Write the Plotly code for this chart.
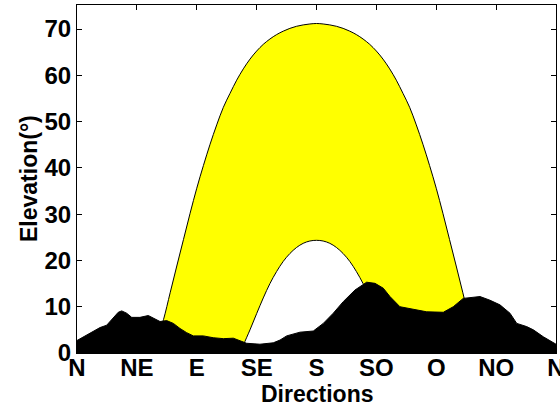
import plotly.graph_objects as go

# Direction tick labels (azimuth in degrees from North)
dir_vals = [0, 45, 90, 135, 180, 225, 270, 315, 360]
dir_text = ["N", "NE", "E", "SE", "S", "SO", "O", "NO", "N"]
elev_ticks = [0, 10, 20, 30, 40, 50, 60, 70]

# Summer solstice sun path (azimuth, elevation)
summer_az = [57.5, 60, 65, 70, 75, 80, 85, 90, 95, 100, 105, 110, 115, 120, 125, 130,
             135, 140, 145, 150, 155, 160, 165, 170, 175, 180,
             185, 190, 195, 200, 205, 210, 215, 220, 225, 230, 235, 240,
             245, 250, 255, 260, 265, 270, 275, 280, 285, 290, 295, 300, 302.5]
summer_el = [0.0, 2.6, 7.2, 13.0, 18.8, 24.5, 30.2, 35.6, 40.5, 45.1, 49.3, 53.1,
             56.1, 58.95, 61.4, 63.5, 65.25, 66.7, 67.85, 68.8, 69.55, 70.15, 70.6,
             70.9, 71.1, 71.2,
             71.1, 70.9, 70.6, 70.15, 69.55, 68.8, 67.85, 66.7, 65.25, 63.5, 61.4,
             58.95, 56.1, 53.1, 49.3, 45.1, 40.5, 35.6, 30.2, 24.5, 18.8, 13.0, 7.2,
             2.6, 0.0]

# Winter solstice sun path (azimuth, elevation)
winter_az = [122.5, 125, 130, 135, 140, 145, 150, 155, 160, 165, 170, 175, 180,
             185, 190, 195, 200, 205, 210, 215, 220, 225, 230, 235, 237.5]
winter_el = [0.0, 1.7, 5.0, 8.5, 11.9, 15.0, 17.6, 19.8, 21.5, 22.8, 23.7, 24.2, 24.35,
             24.2, 23.7, 22.8, 21.5, 19.8, 17.6, 15.0, 11.9, 8.5, 5.0, 1.7, 0.0]

# Horizon profile (azimuth, elevation)
horizon_az = [0, 7.3, 12.3, 17.3, 22.3, 27.3, 31.0, 33.6, 37.3, 41.1, 47.3, 53.6, 57.3,
              62.4, 67.4, 72.4, 77.4, 82.4, 87.4, 94.9, 102.4, 110.0, 117.5, 122.5,
              127.5, 137.5, 147.5, 152.6, 157.6, 167.6, 177.6, 185.1, 192.6, 200.1,
              208.9, 217.7, 224.0, 230.2, 235.2, 242.7, 252.7, 262.8, 275.3, 282.8,
              290.3, 302.9, 310.4, 317.9, 325.4, 330.5, 338.0, 343.0, 350.5, 358.0, 360]
horizon_el = [2.7, 3.9, 4.75, 5.5, 6.0, 7.5, 8.8, 9.1, 8.6, 7.7, 7.7, 8.1, 7.6,
              6.8, 7.0, 6.4, 5.3, 4.4, 3.7, 3.7, 3.3, 3.1, 3.2, 2.7,
              2.1, 1.9, 2.2, 2.8, 3.7, 4.5, 4.75, 6.4, 8.6, 11.1,
              13.6, 15.3, 15.05, 14.0, 12.2, 10.0, 9.5, 8.9, 8.8, 10.0,
              11.8, 12.2, 11.4, 10.4, 8.6, 6.4, 5.7, 5.0, 3.5, 2.1, 1.9]

FONT = "Liberation Sans, Arial, sans-serif"
L, R, T, B = 77, 4, 5, 55
W, H = 560, 408
PW, PH = W - L - R, H - T - B

fig = go.Figure()

# Yellow band between the two sun paths
fig.add_trace(go.Scatter(
    x=summer_az + winter_az[::-1],
    y=summer_el + winter_el[::-1],
    mode="lines", fill="toself", fillcolor="#FFFF00",
    line=dict(color="black", width=1, shape="spline", smoothing=1),
    hoverinfo="skip", showlegend=False,
))

# Black horizon
fig.add_trace(go.Scatter(
    x=horizon_az, y=horizon_el,
    mode="lines", fill="tozeroy", fillcolor="black",
    line=dict(color="black", width=1),
    hoverinfo="skip", showlegend=False,
))

fig.update_layout(
    width=W, height=H,
    margin=dict(l=L, r=R, t=T, b=B),
    paper_bgcolor="white", plot_bgcolor="white",
    font=dict(family=FONT, color="black"),
    showlegend=False,
    annotations=[
        dict(text="<b>Elevation(°)</b>", xref="paper", yref="paper",
             x=(29 - L) / PW, y=0.5, xanchor="center", yanchor="middle",
             textangle=-90, showarrow=False,
             font=dict(family=FONT, size=23, color="black")),
        dict(text="<b>Directions</b>", xref="paper", yref="paper",
             x=0.5, y=-(394 - (H - B)) / PH, xanchor="center", yanchor="middle",
             showarrow=False,
             font=dict(family=FONT, size=23, color="black")),
    ],
)

fig.update_xaxes(
    range=[0, 360], tickmode="array", tickvals=dir_vals, ticktext=dir_text,
    ticks="inside", ticklen=5, tickwidth=1, tickcolor="black",
    showline=True, linecolor="black", linewidth=1, mirror="ticks",
    showgrid=False, zeroline=False,
    tickfont=dict(family=FONT, size=24, color="black", weight="bold"),
    ticklabelstandoff=-7, ticklabeloverflow="allow",
    automargin=False,
)
fig.update_yaxes(
    range=[0, 75.2], tickmode="array", tickvals=elev_ticks,
    ticks="inside", ticklen=5, tickwidth=1, tickcolor="black",
    showline=True, linecolor="black", linewidth=1, mirror="ticks",
    showgrid=False, zeroline=False,
    tickfont=dict(family=FONT, size=24, color="black", weight="bold"),
    ticklabeloverflow="allow",
    automargin=False,
)

fig.write_html("out.html", config={"displayModeBar": False},
               post_script="document.body.style.margin='0';")
